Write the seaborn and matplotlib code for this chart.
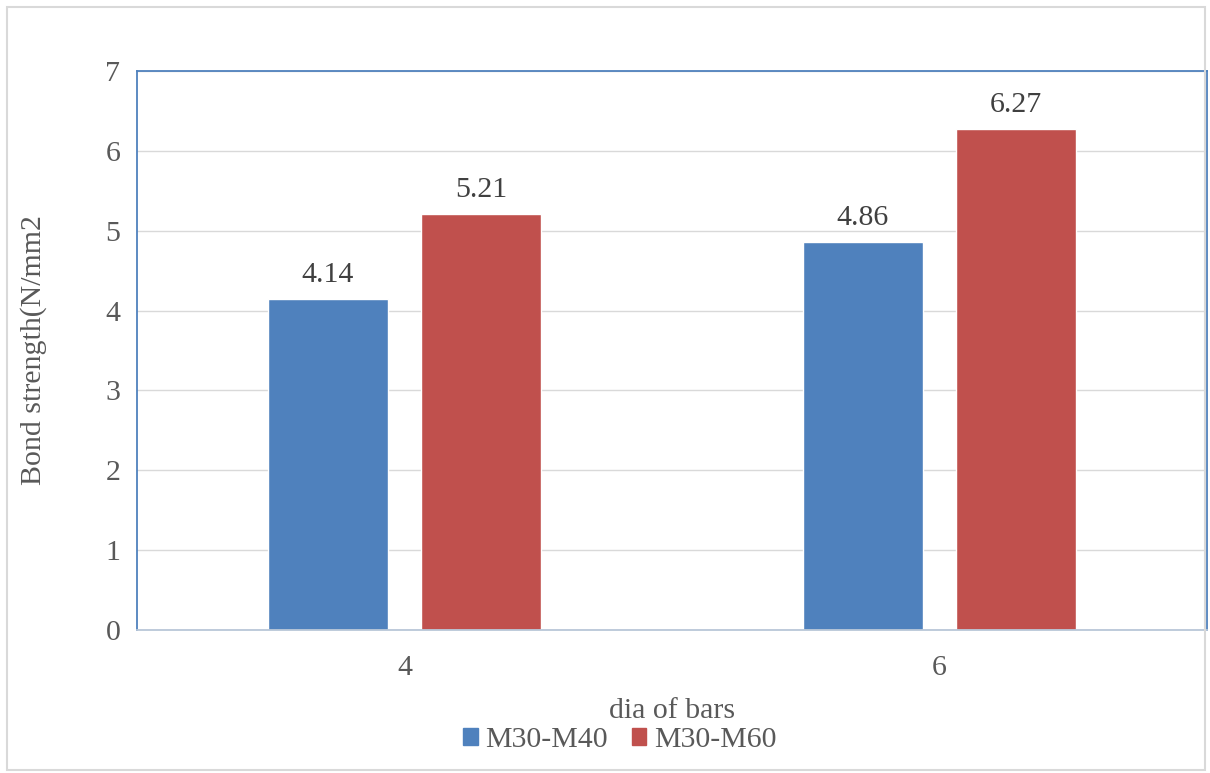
import pandas as pd
import matplotlib.pyplot as plt
import seaborn as sns
from matplotlib.patches import Rectangle

# data
dia = ['4', '6']
m30_m40 = [4.14, 4.86]
m30_m60 = [5.21, 6.27]
series = ['M30-M40', 'M30-M60']
colors = ['#4F81BD', '#C0504D']

df = pd.DataFrame({
    'dia': dia * 2,
    'strength': m30_m40 + m30_m60,
    'mix': [series[0]] * 2 + [series[1]] * 2,
})

sns.set_style('white')
plt.rcParams['font.family'] = ['Liberation Serif', 'DejaVu Serif']
txt = '#595959'

fig = plt.figure(figsize=(12.1, 7.73), dpi=100)
ax = fig.add_axes([0.1132, 0.185, 0.8843, 0.7231])

sns.barplot(data=df, x='dia', y='strength', hue='mix', palette=colors,
            width=0.572, gap=0.217, saturation=1, ax=ax, legend=False)

ax.set_ylim(0, 7)
ax.set_xlim(-0.5, 1.5)
ax.set_yticks(range(8))
ax.yaxis.grid(True, color='#D9D9D9', lw=1)
ax.set_axisbelow(True)
for s in ax.spines.values():
    s.set_color('#4F81BD')
    s.set_linewidth(1.3)
ax.spines['bottom'].set_color('#B9C7D8')
ax.tick_params(axis='both', length=0, labelsize=21.5, colors=txt, pad=12)
ax.tick_params(axis='x', pad=18)

for c in ax.containers:
    ax.bar_label(c, fmt='%.2f', fontsize=21.5, color='#404040', padding=8)

ax.set_xlabel('dia of bars', fontsize=21.5, color=txt, labelpad=12)
ax.set_ylabel('Bond strength(N/mm2', fontsize=21.5, color=txt, labelpad=42)

handles = [Rectangle((0, 0), 1, 1, color=c) for c in colors]
fig.legend(handles, series, loc='center', bbox_to_anchor=(0.512, 0.043), ncol=2,
           frameon=False, fontsize=21.5, labelcolor=txt, handlelength=0.5,
           handleheight=0.5, handletextpad=0.25, columnspacing=0.8)

# outer chart border
fig.patches.append(Rectangle((0.006, 0.004), 0.99, 0.987, transform=fig.transFigure,
                             fill=False, edgecolor='#D9D9D9', lw=1.5))

fig.savefig('out.png', dpi=100)
